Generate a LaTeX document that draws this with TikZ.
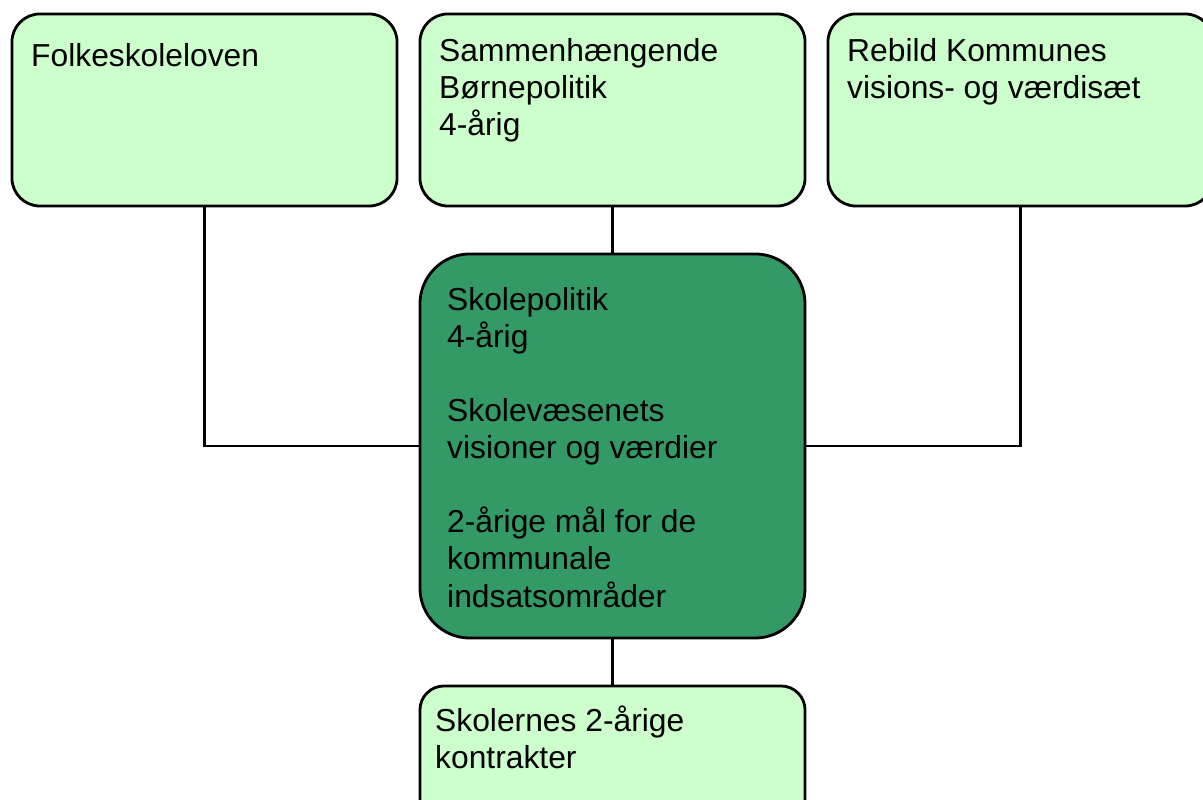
\documentclass[tikz,border=0pt]{standalone}
\usepackage{fontspec}
\setmainfont{Liberation Sans}
\usetikzlibrary{calc}
\usetikzlibrary{positioning}

\definecolor{lightgreen}{HTML}{CCFFCC}
\definecolor{darkgreen}{HTML}{339966}

\tikzset{
  box/.style={draw,line width=2pt,rectangle,rounded corners=0.7cm,fill=lightgreen,
    inner sep=0pt,outer sep=0pt,minimum width=9.625cm,minimum height=4.8cm},
  txt/.style={anchor=north west,align=left,inner sep=0pt,
    font=\fontsize{22.6}{26.4}\selectfont,execute at begin node={\rule{0pt}{20pt}}},
  link/.style={draw,line width=1.8pt}
}

\begin{document}
\begin{tikzpicture}[x=0.025cm,y=0.025cm]

  \useasboundingbox (0,0) rectangle (1203,800);

  \node [box] (folke) at (204.5,690) {};
  \node [box] (boern) at (612.5,690) {};
  \node [box] (rebild) at (1020.5,690) {};
  \node [box,fill=darkgreen,minimum height=9.6cm,rounded corners=1.25cm] (skole) at (612.5,354) {};
  \node [box,rounded corners=0.6cm] (kontrakt) at (612.5,18) {};

  \path [link]
    (folke.south) |- (skole.west)
    (rebild.south) |- (skole.east)
    (boern.south) -- (skole.north)
    (skole.south) -- (kontrakt.north);

  % text blocks, first baseline set by offset + 20pt strut
  \node [txt] (folke_txt) at ($(folke.north west)+(19,-52)+(0,20pt)$) {Folkeskoleloven};
  \node [txt] (boern_txt) at ($(boern.north west)+(19,-52)+(0,20pt)$) {Sammenhængende\\Børnepolitik\\4-årig};
  \node [txt] (rebild_txt) at ($(rebild.north west)+(19,-52)+(0,20pt)$) {Rebild Kommunes\\visions- og værdisæt};
  \node [txt] (skole_txt) at ($(skole.north west)+(27,-61)+(0,20pt)$)
    {Skolepolitik\\4-årig\\[26.4pt]Skolevæsenets\\visioner og værdier\\[26.4pt]2-årige mål for de\\kommunale\\indsatsområder};
  \node [txt] (kontrakt_txt) at ($(kontrakt.north west)+(15,-48)+(0,20pt)$) {Skolernes 2-årige\\kontrakter};

\end{tikzpicture}
\end{document}
